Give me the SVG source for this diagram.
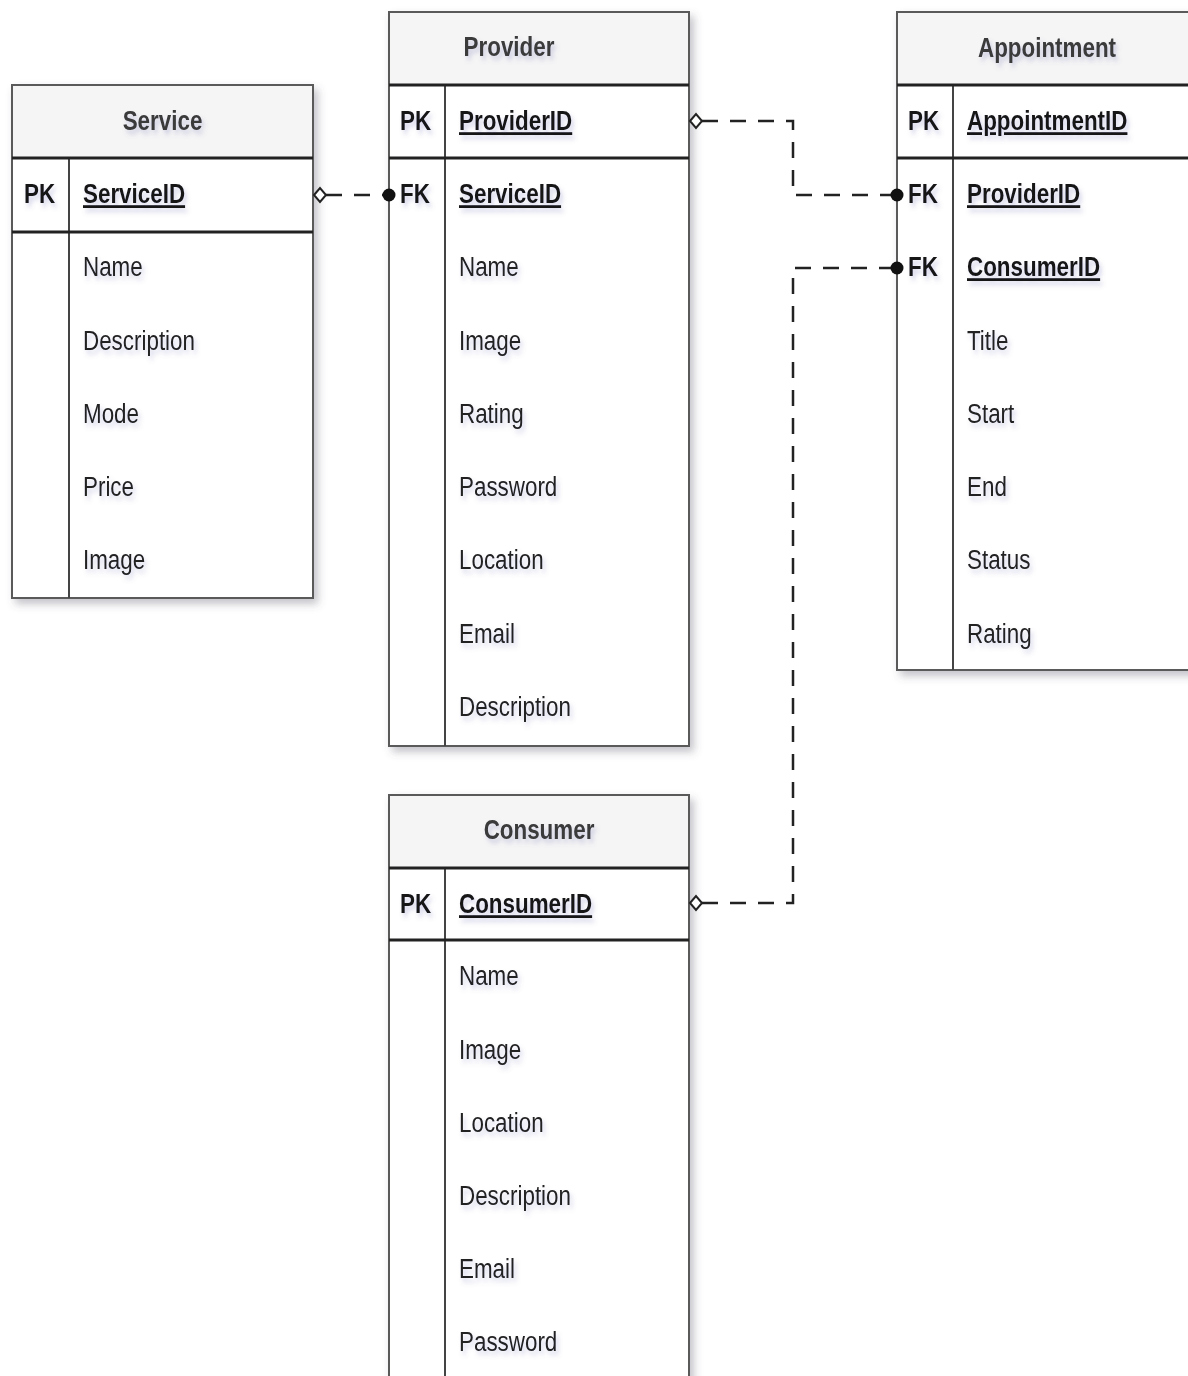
<svg xmlns="http://www.w3.org/2000/svg" width="1188" height="1376" viewBox="0 0 1188 1376">
  <defs>
    <filter id="tblShadow" x="-10%" y="-10%" width="125%" height="125%">
      <feDropShadow dx="4" dy="5" stdDeviation="4" flood-color="#556" flood-opacity="0.35"/>
    </filter>
    <filter id="txtShadow" x="-10%" y="-30%" width="130%" height="180%">
      <feDropShadow dx="3" dy="4" stdDeviation="2.5" flood-color="#6a6ab0" flood-opacity="0.3"/>
    </filter>
  </defs>
  <style>
    .hdr { fill: #f5f5f5; stroke: #5a5a5a; stroke-width: 2; }
    .box { fill: #ffffff; stroke: #5a5a5a; stroke-width: 2; }
    .sep { stroke: #222; stroke-width: 3; }
    .col { stroke: #444; stroke-width: 2; }
    text { font-family: "Liberation Sans", Arial, sans-serif; font-size: 28px; filter: url(#txtShadow); }
    .title { font-weight: bold; fill: #3a3a3a; text-anchor: middle; }
    .tag { font-weight: bold; fill: #151515; }
    .key { font-weight: bold; fill: #151515; text-decoration: underline; }
    .fld { fill: #222; }
    .link { fill: none; stroke: #222; stroke-width: 2.5; stroke-dasharray: 16 12; }
    .diamond { fill: #fff; stroke: #222; stroke-width: 2; }
    .dot { fill: #111; }
  </style>

  <!-- Service -->
  <g id="service">
    <g filter="url(#tblShadow)">
      <rect class="box" x="12" y="85" width="301" height="513"/>
      <rect class="hdr" x="12" y="85" width="301" height="73"/>
    </g>
    <line class="col" x1="69" y1="158" x2="69" y2="598"/>
    <line class="sep" x1="12" y1="158" x2="313" y2="158"/>
    <line class="sep" x1="12" y1="232" x2="313" y2="232"/>
    <text class="title" transform="translate(162.5 130) scale(0.8 1)">Service</text>
    <text class="tag" transform="translate(24 203) scale(0.8 1)">PK</text>
    <text class="key" transform="translate(83 203) scale(0.8 1)">ServiceID</text>
    <text class="fld" transform="translate(83 276) scale(0.8 1)">Name</text>
    <text class="fld" transform="translate(83 350) scale(0.8 1)">Description</text>
    <text class="fld" transform="translate(83 423) scale(0.8 1)">Mode</text>
    <text class="fld" transform="translate(83 496) scale(0.8 1)">Price</text>
    <text class="fld" transform="translate(83 569) scale(0.8 1)">Image</text>
  </g>

  <!-- Provider -->
  <g id="provider">
    <g filter="url(#tblShadow)">
      <rect class="box" x="389" y="12" width="300" height="734"/>
      <rect class="hdr" x="389" y="12" width="300" height="73"/>
    </g>
    <line class="col" x1="445" y1="85" x2="445" y2="746"/>
    <line class="sep" x1="389" y1="85" x2="689" y2="85"/>
    <line class="sep" x1="389" y1="158" x2="689" y2="158"/>
    <text class="title" transform="translate(509 56) scale(0.8 1)">Provider</text>
    <text class="tag" transform="translate(400 130) scale(0.8 1)">PK</text>
    <text class="key" transform="translate(459 130) scale(0.8 1)">ProviderID</text>
    <text class="tag" transform="translate(400 203) scale(0.8 1)">FK</text>
    <text class="key" transform="translate(459 203) scale(0.8 1)">ServiceID</text>
    <text class="fld" transform="translate(459 276) scale(0.8 1)">Name</text>
    <text class="fld" transform="translate(459 350) scale(0.8 1)">Image</text>
    <text class="fld" transform="translate(459 423) scale(0.8 1)">Rating</text>
    <text class="fld" transform="translate(459 496) scale(0.8 1)">Password</text>
    <text class="fld" transform="translate(459 569) scale(0.8 1)">Location</text>
    <text class="fld" transform="translate(459 643) scale(0.8 1)">Email</text>
    <text class="fld" transform="translate(459 716) scale(0.8 1)">Description</text>
  </g>

  <!-- Appointment -->
  <g id="appointment">
    <g filter="url(#tblShadow)">
      <rect class="box" x="897" y="12" width="300" height="658"/>
      <rect class="hdr" x="897" y="12" width="300" height="73"/>
    </g>
    <line class="col" x1="953" y1="85" x2="953" y2="670"/>
    <line class="sep" x1="897" y1="85" x2="1197" y2="85"/>
    <line class="sep" x1="897" y1="158" x2="1197" y2="158"/>
    <text class="title" transform="translate(1047 57) scale(0.8 1)">Appointment</text>
    <text class="tag" transform="translate(908 130) scale(0.8 1)">PK</text>
    <text class="key" transform="translate(967 130) scale(0.8 1)">AppointmentID</text>
    <text class="tag" transform="translate(908 203) scale(0.8 1)">FK</text>
    <text class="key" transform="translate(967 203) scale(0.8 1)">ProviderID</text>
    <text class="tag" transform="translate(908 276) scale(0.8 1)">FK</text>
    <text class="key" transform="translate(967 276) scale(0.8 1)">ConsumerID</text>
    <text class="fld" transform="translate(967 350) scale(0.8 1)">Title</text>
    <text class="fld" transform="translate(967 423) scale(0.8 1)">Start</text>
    <text class="fld" transform="translate(967 496) scale(0.8 1)">End</text>
    <text class="fld" transform="translate(967 569) scale(0.8 1)">Status</text>
    <text class="fld" transform="translate(967 643) scale(0.8 1)">Rating</text>
  </g>

  <!-- Consumer -->
  <g id="consumer">
    <g filter="url(#tblShadow)">
      <rect class="box" x="389" y="795" width="300" height="600"/>
      <rect class="hdr" x="389" y="795" width="300" height="73"/>
    </g>
    <line class="col" x1="445" y1="868" x2="445" y2="1395"/>
    <line class="sep" x1="389" y1="868" x2="689" y2="868"/>
    <line class="sep" x1="389" y1="940" x2="689" y2="940"/>
    <text class="title" transform="translate(539 839) scale(0.8 1)">Consumer</text>
    <text class="tag" transform="translate(400 913) scale(0.8 1)">PK</text>
    <text class="key" transform="translate(459 913) scale(0.8 1)">ConsumerID</text>
    <text class="fld" transform="translate(459 985) scale(0.8 1)">Name</text>
    <text class="fld" transform="translate(459 1059) scale(0.8 1)">Image</text>
    <text class="fld" transform="translate(459 1132) scale(0.8 1)">Location</text>
    <text class="fld" transform="translate(459 1205) scale(0.8 1)">Description</text>
    <text class="fld" transform="translate(459 1278) scale(0.8 1)">Email</text>
    <text class="fld" transform="translate(459 1351) scale(0.8 1)">Password</text>
  </g>

  <!-- Relationships -->
  <g id="connectors">
    <!-- Service.ServiceID -> Provider.ServiceID -->
    <path class="link" d="M326 195 H389"/>
    <path class="diamond" d="M314 195 L320 188 L326 195 L320 202 Z"/>
    <circle class="dot" cx="389" cy="195" r="6.5"/>

    <!-- Provider.ProviderID -> Appointment.ProviderID -->
    <path class="link" d="M702 121 H793 V195 H897"/>
    <path class="diamond" d="M690 121 L696 114 L702 121 L696 128 Z"/>
    <circle class="dot" cx="897" cy="195" r="6.5"/>

    <!-- Consumer.ConsumerID -> Appointment.ConsumerID -->
    <path class="link" d="M702 903 H793 V268 H897"/>
    <path class="diamond" d="M690 903 L696 896 L702 903 L696 910 Z"/>
    <circle class="dot" cx="897" cy="268" r="6.5"/>
  </g>
</svg>
